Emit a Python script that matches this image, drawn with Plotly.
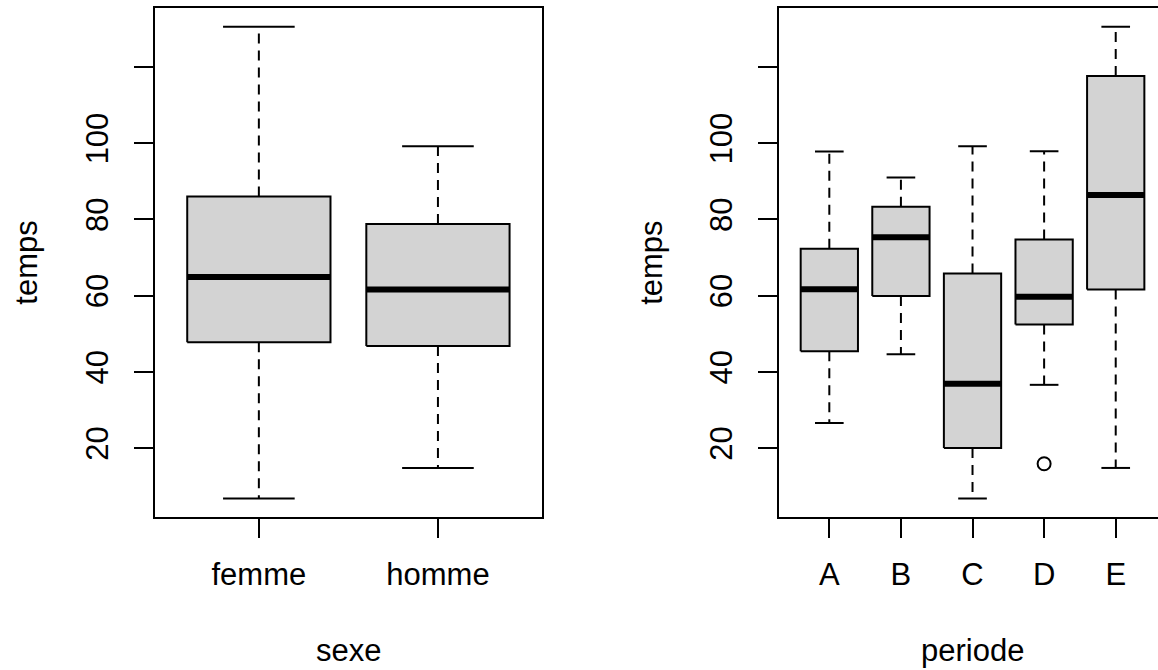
import plotly.graph_objects as go

# ---------------- data ----------------
sexe_categories = ["femme", "homme"]
sexe_lower = [6.8, 14.8]
sexe_q1 = [47.8, 46.8]
sexe_median = [64.9, 61.6]
sexe_q3 = [86.0, 78.8]
sexe_upper = [130.5, 99.2]
sexe_outliers = [[], []]

periode_categories = ["A", "B", "C", "D", "E"]
periode_lower = [26.6, 44.6, 6.8, 36.6, 14.8]
periode_q1 = [45.4, 59.9, 20.0, 52.4, 61.6]
periode_median = [61.7, 75.3, 36.9, 59.7, 86.4]
periode_q3 = [72.3, 83.3, 65.8, 74.7, 117.6]
periode_upper = [97.8, 91.0, 99.2, 97.9, 130.5]
periode_outliers = [[], [], [], [15.9], []]

y_tick_values = [20, 40, 60, 80, 100, 120]
y_tick_labels = ["20", "40", "60", "80", "100", ""]

y_title = "temps"
x_titles = ["sexe", "periode"]

# ---------------- style ----------------
FONT = "Liberation Sans, Arial, Helvetica, sans-serif"
FS = 31
FILL = "#D3D3D3"
LW = 2
MED_W = 6
BOXWEX = 0.8
STAPLEWEX = 0.5
DASH = "10px,7px"
W, H = 1158, 670

fig = go.Figure()


def add_boxes(cats, lower, q1, med, q3, upper, outliers, xa, ya):
    half = BOXWEX / 2
    shalf = BOXWEX * STAPLEWEX / 2
    wx, wy, sx, sy, mx, my, ox, oy = [], [], [], [], [], [], [], []
    for i, c in enumerate(cats):
        p = i + 1
        # whiskers
        wx += [p, p, None, p, p, None]
        wy += [q3[i], upper[i], None, q1[i], lower[i], None]
        # staples
        sx += [p - shalf, p + shalf, None, p - shalf, p + shalf, None]
        sy += [upper[i], upper[i], None, lower[i], lower[i], None]
        # medians
        mx += [p - half, p + half, None]
        my += [med[i], med[i], None]
        for o in outliers[i]:
            ox.append(p)
            oy.append(o)
    fig.add_trace(go.Scatter(x=wx, y=wy, mode="lines", xaxis=xa, yaxis=ya,
                             line=dict(color="black", width=LW, dash=DASH),
                             hoverinfo="skip", showlegend=False))
    fig.add_trace(go.Scatter(x=sx, y=sy, mode="lines", xaxis=xa, yaxis=ya,
                             line=dict(color="black", width=LW),
                             hoverinfo="skip", showlegend=False))
    for i, c in enumerate(cats):
        p = i + 1
        fig.add_trace(go.Scatter(
            x=[p - half, p + half, p + half, p - half, p - half],
            y=[q1[i], q1[i], q3[i], q3[i], q1[i]],
            mode="lines", fill="toself", fillcolor=FILL,
            line=dict(color="black", width=LW), xaxis=xa, yaxis=ya,
            name=c, showlegend=False))
    fig.add_trace(go.Scatter(x=mx, y=my, mode="lines", xaxis=xa, yaxis=ya,
                             line=dict(color="black", width=MED_W),
                             hoverinfo="skip", showlegend=False))
    if ox:
        fig.add_trace(go.Scatter(x=ox, y=oy, mode="markers", xaxis=xa, yaxis=ya,
                                 marker=dict(symbol="circle-open", size=13,
                                             color="black", line=dict(width=2)),
                                 showlegend=False))


add_boxes(sexe_categories, sexe_lower, sexe_q1, sexe_median, sexe_q3,
          sexe_upper, sexe_outliers, "x", "y")
add_boxes(periode_categories, periode_lower, periode_q1, periode_median,
          periode_q3, periode_upper, periode_outliers, "x2", "y2")

# y range as in R: data range + 4% each side
all_vals = sexe_lower + sexe_upper + periode_lower + periode_upper + \
    [v for o in periode_outliers for v in o]
lo, hi = min(all_vals), max(all_vals)
pad = 0.04 * (hi - lo)
yr = [lo - pad, hi + pad]

# x ranges as in R: [0.5, n+0.5] + 4%
def xrange(n):
    a, b = 0.5, n + 0.5
    p = 0.04 * (b - a)
    return [a - p, b + p]

xr1 = xrange(len(sexe_categories))
xr2_full = xrange(len(periode_categories))

# pixel layout
ytop_px, ybot_px = 8, 517.3
ydom = [(H - ybot_px) / H, (H - ytop_px) / H]
x1_px = [155, 541.8]
x2_left = 779.2
unit2 = 71.6  # px per category in right panel
xr2 = [xr2_full[0], xr2_full[0] + (W - x2_left) / unit2]

tickfont = dict(family=FONT, size=FS, color="black")
common_x = dict(showgrid=False, zeroline=False, showline=True, linecolor="black",
                linewidth=LW, ticks="outside", ticklen=19, tickwidth=LW,
                tickcolor="black", tickfont=tickfont, mirror=True,
                ticklabelstandoff=9)
common_y = dict(showgrid=False, zeroline=False, showline=True, linecolor="black",
                linewidth=LW, ticks="outside", ticklen=19, tickwidth=LW,
                tickcolor="black", tickfont=tickfont, tickangle=-90,
                tickvals=y_tick_values, ticktext=y_tick_labels, range=yr,
                domain=ydom, ticklabelstandoff=14)

fig.update_layout(
    width=W, height=H, margin=dict(l=0, r=0, t=0, b=0),
    paper_bgcolor="white", plot_bgcolor="white",
    font=dict(family=FONT, size=FS, color="black"),
    xaxis=dict(common_x, domain=[x1_px[0] / W, x1_px[1] / W], range=xr1,
               tickvals=list(range(1, len(sexe_categories) + 1)),
               ticktext=sexe_categories),
    yaxis=dict(common_y, anchor="x", mirror=True),
    xaxis2=dict(common_x, domain=[x2_left / W, 1.0], range=xr2, anchor="y2",
                tickvals=list(range(1, len(periode_categories) + 1)),
                ticktext=periode_categories),
    yaxis2=dict(common_y, anchor="x2", mirror=False),
)

# axis titles
fig.add_annotation(text=x_titles[0], xref="x domain", x=0.5, yref="y domain", y=0,
                   yanchor="middle", yshift=-133, showarrow=False, borderpad=0,
                   font=dict(family=FONT, size=FS))
fig.add_annotation(text=x_titles[1], xref="x2", x=sum(xr2_full) / 2,
                   yref="y2 domain", y=0, yanchor="middle", yshift=-133,
                   showarrow=False, borderpad=0, font=dict(family=FONT, size=FS))
fig.add_annotation(text=y_title, xref="x domain", x=0, xanchor="center",
                   xshift=-128, yref="y domain", y=0.5, textangle=-90,
                   showarrow=False, font=dict(family=FONT, size=FS))
fig.add_annotation(text=y_title, xref="x2 domain", x=0, xanchor="center",
                   xshift=-128, yref="y2 domain", y=0.5, textangle=-90,
                   showarrow=False, font=dict(family=FONT, size=FS))

fig.write_html("out.html")
